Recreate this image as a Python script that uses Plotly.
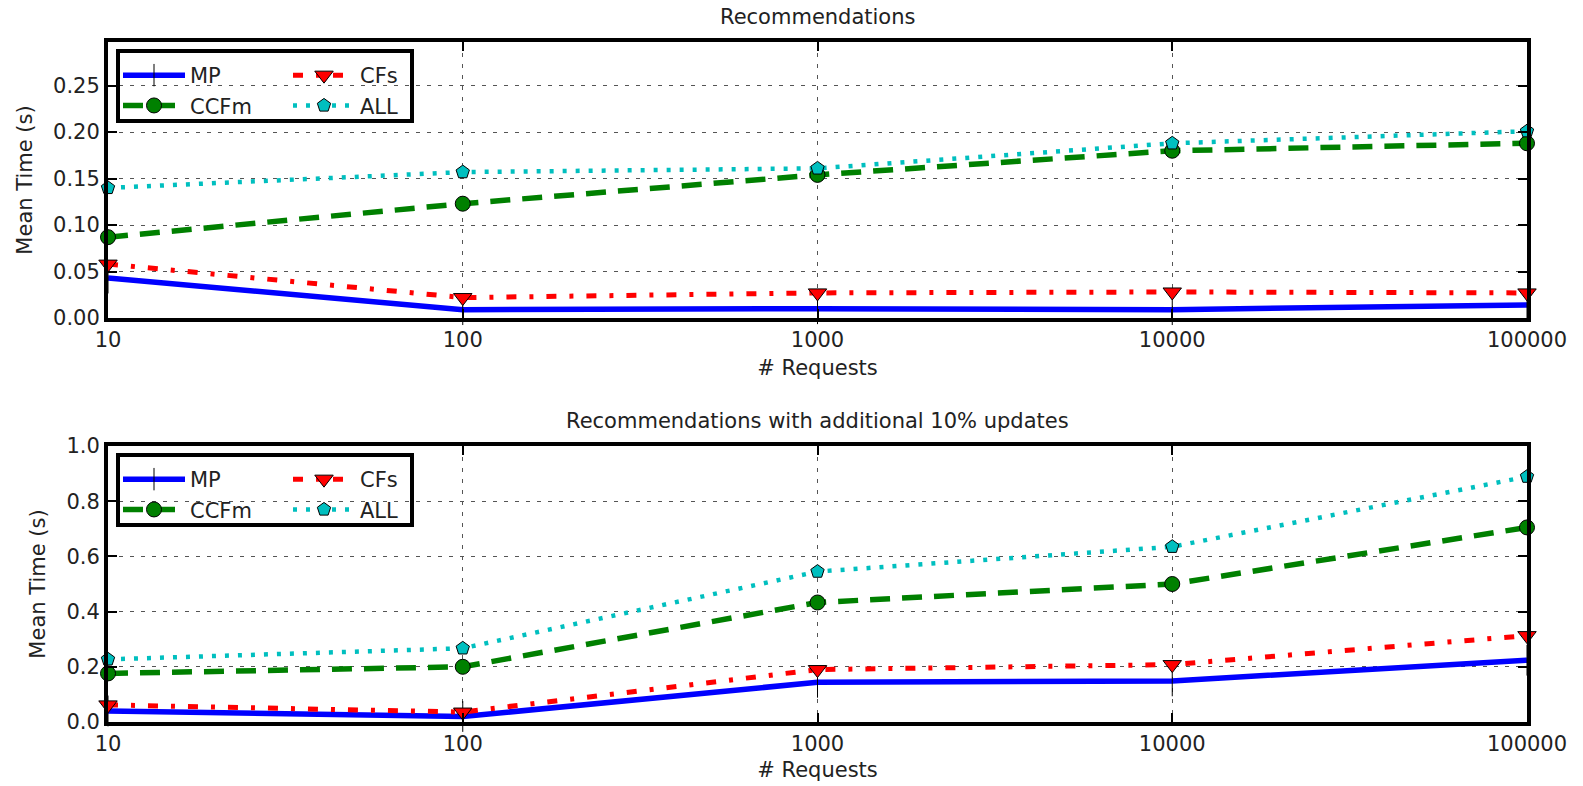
import plotly.graph_objects as go

requests = [10, 100, 1000, 10000, 100000]
x_ticks = ["10", "100", "1000", "10000", "100000"]

# Top: Recommendations
top_mp = [0.043, 0.009, 0.010, 0.009, 0.014]
top_ccfm = [0.087, 0.123, 0.154, 0.180, 0.188]
top_cfs = [0.058, 0.022, 0.027, 0.028, 0.027]
top_all = [0.140, 0.157, 0.161, 0.188, 0.201]

# Bottom: Recommendations with additional 10% updates
bot_mp = [0.040, 0.020, 0.144, 0.149, 0.224]
bot_ccfm = [0.176, 0.200, 0.433, 0.500, 0.705]
bot_cfs = [0.062, 0.036, 0.190, 0.208, 0.313]
bot_all = [0.227, 0.267, 0.545, 0.635, 0.889]

titles = ["Recommendations", "Recommendations with additional 10% updates"]
series_names = ["MP", "CCFm", "CFs", "ALL"]

W, H = 1583, 786
FONT = "DejaVu Sans"
TXT = "#222222"
FS = 21

def px_x(p):
    return p / W

def px_y(p):
    return 1 - p / H

x_dom = [px_x(108), px_x(1527)]
top_dom = [px_y(318), px_y(42)]
bot_dom = [px_y(722), px_y(446)]

styles = {
    "MP": dict(line=dict(color="#0000FF", width=5.5, dash="solid"),
               marker=dict(symbol="line-ns", size=22, color="#0000FF",
                           line=dict(color="black", width=1))),
    "CCFm": dict(line=dict(color="#008000", width=5.5, dash="20px,12px"),
                 marker=dict(symbol="circle", size=15, color="#008000",
                             line=dict(color="black", width=1))),
    "CFs": dict(line=dict(color="#FF0000", width=5, dash="10px,13px,4px,13px"),
                marker=dict(symbol="triangle-down", size=16, color="#FF0000",
                            line=dict(color="black", width=1))),
    "ALL": dict(line=dict(color="#00BFBF", width=4.5, dash="4px,9px"),
                marker=dict(symbol="pentagon", size=14, color="#00BFBF",
                            line=dict(color="black", width=1))),
}

fig = go.Figure()

panels = [
    ("x", "y", [top_mp, top_ccfm, top_cfs, top_all], ["legend", "legend2"]),
    ("x2", "y2", [bot_mp, bot_ccfm, bot_cfs, bot_all], ["legend3", "legend4"]),
]
for xa, ya, data, legs in panels:
    for i, (name, vals) in enumerate(zip(series_names, data)):
        st = styles[name]
        fig.add_trace(go.Scatter(
            x=requests, y=vals, name=name, mode="lines+markers",
            xaxis=xa, yaxis=ya, line=st["line"], marker=st["marker"],
            legend=legs[0] if i < 2 else legs[1],
            legendgroup=f"{ya}{name}", cliponaxis=False,
        ))

axis_common = dict(
    showline=True, linecolor="black", linewidth=4, mirror="ticks",
    ticks="inside", ticklen=9, tickwidth=1.5, tickcolor="black",
    showgrid=True, gridcolor="#555555", gridwidth=1.2, griddash="4px,7px",
    zeroline=False, tickfont=dict(family=FONT, size=FS, color=TXT),
    automargin=False,
)

def xaxis(standoff):
    return dict(axis_common, type="log", range=[1, 5], tickvals=requests,
                ticktext=x_ticks, domain=x_dom,
                title=dict(text="# Requests", font=dict(family=FONT, size=FS, color=TXT),
                           standoff=standoff))

ytitle = dict(text="Mean Time (s)", font=dict(family=FONT, size=FS, color=TXT), standoff=16)

fig.update_layout(
    width=W, height=H, margin=dict(l=0, r=0, t=0, b=0, autoexpand=False),
    plot_bgcolor="white", paper_bgcolor="white", showlegend=True,
    xaxis=dict(xaxis(10), anchor="y"),
    xaxis2=dict(xaxis(8), anchor="y2"),
    yaxis=dict(axis_common, range=[0, 0.297], domain=top_dom, anchor="x",
               tickvals=[0, 0.05, 0.10, 0.15, 0.20, 0.25],
               ticktext=["0.00", "0.05", "0.10", "0.15", "0.20", "0.25"],
               title=ytitle),
    yaxis2=dict(axis_common, range=[0, 1.0], domain=bot_dom, anchor="x2",
                tickvals=[0, 0.2, 0.4, 0.6, 0.8, 1.0],
                ticktext=["0.0", "0.2", "0.4", "0.6", "0.8", "1.0"],
                title=ytitle),
)

leg_font = dict(family=FONT, size=FS, color=TXT)
def leg(xp, yp):
    return dict(x=px_x(xp), y=px_y(yp), xanchor="left", yanchor="top",
                bgcolor="rgba(0,0,0,0)", borderwidth=0, font=leg_font,
                itemwidth=62, tracegroupgap=5, traceorder="normal")

fig.update_layout(
    legend=leg(118, 55), legend2=leg(288, 55),
    legend3=leg(118, 459), legend4=leg(288, 459),
)

# legend frames
for top in (51, 455):
    fig.add_shape(type="rect", xref="paper", yref="paper",
                  x0=px_x(118), x1=px_x(412), y0=px_y(top + 70), y1=px_y(top),
                  line=dict(color="black", width=4), fillcolor="rgba(0,0,0,0)")

for t, yp in zip(titles, (17, 421)):
    fig.add_annotation(text=t, x=0.5 * (x_dom[0] + x_dom[1]), y=px_y(yp), xref="paper", yref="paper",
                       showarrow=False, font=dict(family=FONT, size=FS, color=TXT),
                       xanchor="center", yanchor="middle")

fig.write_html("out.html", config={"displayModeBar": False},
               post_script="document.body.style.margin='0';document.body.style.overflow='hidden';")
